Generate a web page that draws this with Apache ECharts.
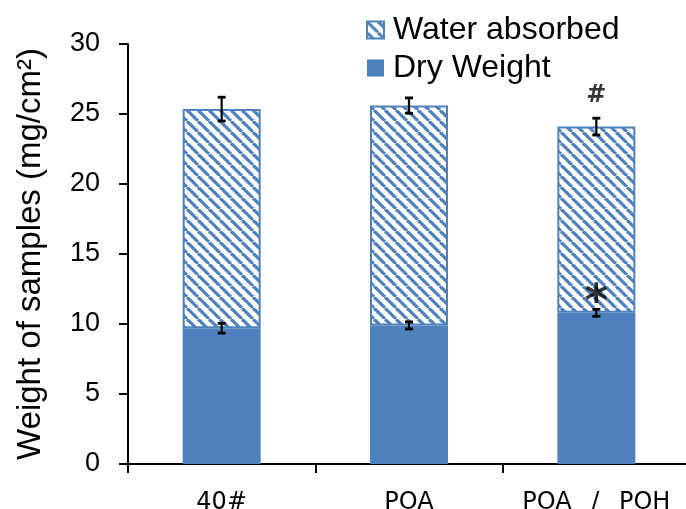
<!DOCTYPE html>
<html>
<head>
<meta charset="utf-8">
<script src="https://cdn.jsdelivr.net/npm/echarts@6/dist/echarts.min.js"></script>
<style>
  html, body { margin: 0; padding: 0; background: #fff; }
  #chart { width: 686px; height: 509px; }
</style>
</head>
<body>
<div id="chart"></div>
<script>
// Sample groups and measured weights (mg/cm²)
const categories = ['40#', 'POA', 'POA / POH'];
const dryWeight = [9.7, 9.9, 10.8];
const dryError = [0.35, 0.25, 0.25];
const waterAbsorbed = [15.65, 15.7, 13.3];
const totalError = [0.85, 0.55, 0.6];

// Value axis ticks
const yMin = 0;
const yMax = 30;
const yInterval = 5;

// Significance marks placed above/inside the bars
const markCategory = ['POA / POH', 'POA / POH'];
const markValue = [26.3, 12.3];
const markText = ['#', '*'];

const BLUE = '#4f81bd';

// Diagonal hatch tile for the "Water absorbed" segment
function hatchTile() {
  const size = 11;
  const c = document.createElement('canvas');
  c.width = size; c.height = size;
  const ctx = c.getContext('2d');
  ctx.fillStyle = '#fff';
  ctx.fillRect(0, 0, size, size);
  ctx.strokeStyle = BLUE;
  ctx.lineWidth = 3.2;
  for (const k of [-size, 0, size]) {
    ctx.beginPath();
    ctx.moveTo(k, 0);
    ctx.lineTo(k + size, size);
    ctx.stroke();
  }
  return c;
}

const totals = dryWeight.map((d, i) => d + waterAbsorbed[i]);

// I-beam error bars: [categoryIndex, center, halfWidth]
const errorData = [];
categories.forEach((c, i) => {
  errorData.push([i, dryWeight[i], dryError[i]]);
  errorData.push([i, totals[i], totalError[i]]);
});

function renderErrorBar(params, api) {
  const idx = api.value(0);
  const center = api.value(1);
  const half = api.value(2);
  const top = api.coord([idx, center + half]);
  const bottom = api.coord([idx, center - half]);
  const cap = 4;
  const capStyle = { stroke: '#000', lineWidth: 2.8 };
  return {
    type: 'group',
    children: [
      { type: 'line', shape: { x1: top[0], y1: top[1], x2: bottom[0], y2: bottom[1] }, style: { stroke: '#000', lineWidth: 2.2 } },
      { type: 'line', shape: { x1: top[0] - cap, y1: top[1], x2: top[0] + cap, y2: top[1] }, style: capStyle },
      { type: 'line', shape: { x1: bottom[0] - cap, y1: bottom[1], x2: bottom[0] + cap, y2: bottom[1] }, style: capStyle }
    ]
  };
}

const chart = echarts.init(document.getElementById('chart'), null, { renderer: 'canvas' });

chart.setOption({
  animation: false,
  backgroundColor: '#fff',
  grid: { left: 128, top: 44, width: 562, height: 420, containLabel: false, outerBoundsMode: 'none' },
  legend: {
    orient: 'vertical',
    left: 366,
    top: 11,
    padding: 0,
    itemWidth: 17,
    itemHeight: 17,
    itemGap: 0,
    icon: 'rect',
    data: ['Water absorbed', 'Dry Weight'],
    textStyle: {
      fontFamily: 'Liberation Sans, Arial, sans-serif',
      fontSize: 32,
      lineHeight: 38,
      color: '#000',
      padding: [0, 0, 0, 4]
    }
  },
  xAxis: {
    type: 'category',
    data: categories,
    boundaryGap: true,
    axisLine: { lineStyle: { color: '#000', width: 2 } },
    axisTick: { show: true, length: 9, lineStyle: { color: '#000', width: 2 } },
    axisLabel: {
      interval: 0,
      hideOverlap: false,
      margin: 27,
      fontFamily: 'DejaVu Sans, sans-serif',
      fontSize: 24,
      color: '#000',
      formatter: v => v.replace(' / ', ' \u2002/\u2002 ')
    }
  },
  yAxis: {
    type: 'value',
    min: yMin,
    max: yMax,
    interval: yInterval,
    name: 'Weight of samples (mg/cm²)',
    nameLocation: 'middle',
    nameGap: 81,
    nameTextStyle: {
      fontFamily: 'Liberation Sans, Arial, sans-serif',
      fontSize: 33,
      color: '#000'
    },
    axisLine: { show: true, lineStyle: { color: '#000', width: 2 } },
    axisTick: { show: true, length: 9, lineStyle: { color: '#000', width: 2 } },
    splitLine: { show: false },
    axisLabel: {
      margin: 28,
      fontFamily: 'Liberation Sans, Arial, sans-serif',
      fontSize: 27,
      color: '#000'
    }
  },
  series: [
    {
      name: 'Dry Weight',
      type: 'bar',
      stack: 'weight',
      barWidth: 78,
      data: dryWeight,
      itemStyle: { color: BLUE }
    },
    {
      name: 'Water absorbed',
      type: 'bar',
      stack: 'weight',
      barWidth: 78,
      data: waterAbsorbed,
      itemStyle: {
        color: { image: hatchTile(), repeat: 'repeat' },
        borderColor: BLUE,
        borderWidth: 2
      }
    },
    {
      name: 'error',
      type: 'custom',
      renderItem: renderErrorBar,
      data: errorData,
      z: 10,
      silent: true
    },
    {
      name: 'marks',
      type: 'scatter',
      symbolSize: 0,
      silent: true,
      z: 11,
      data: markValue.map((v, i) => ({
        value: [markCategory[i], v],
        label: {
          show: true,
          position: 'inside',
          formatter: markText[i],
          color: '#000',
          fontFamily: 'DejaVu Sans, sans-serif',
          fontWeight: 'bold',
          fontSize: markText[i] === '*' ? 44 : 24,
          offset: markText[i] === '*' ? [0, 12] : [0, 0]
        }
      }))
    }
  ]
});
</script>
</body>
</html>
